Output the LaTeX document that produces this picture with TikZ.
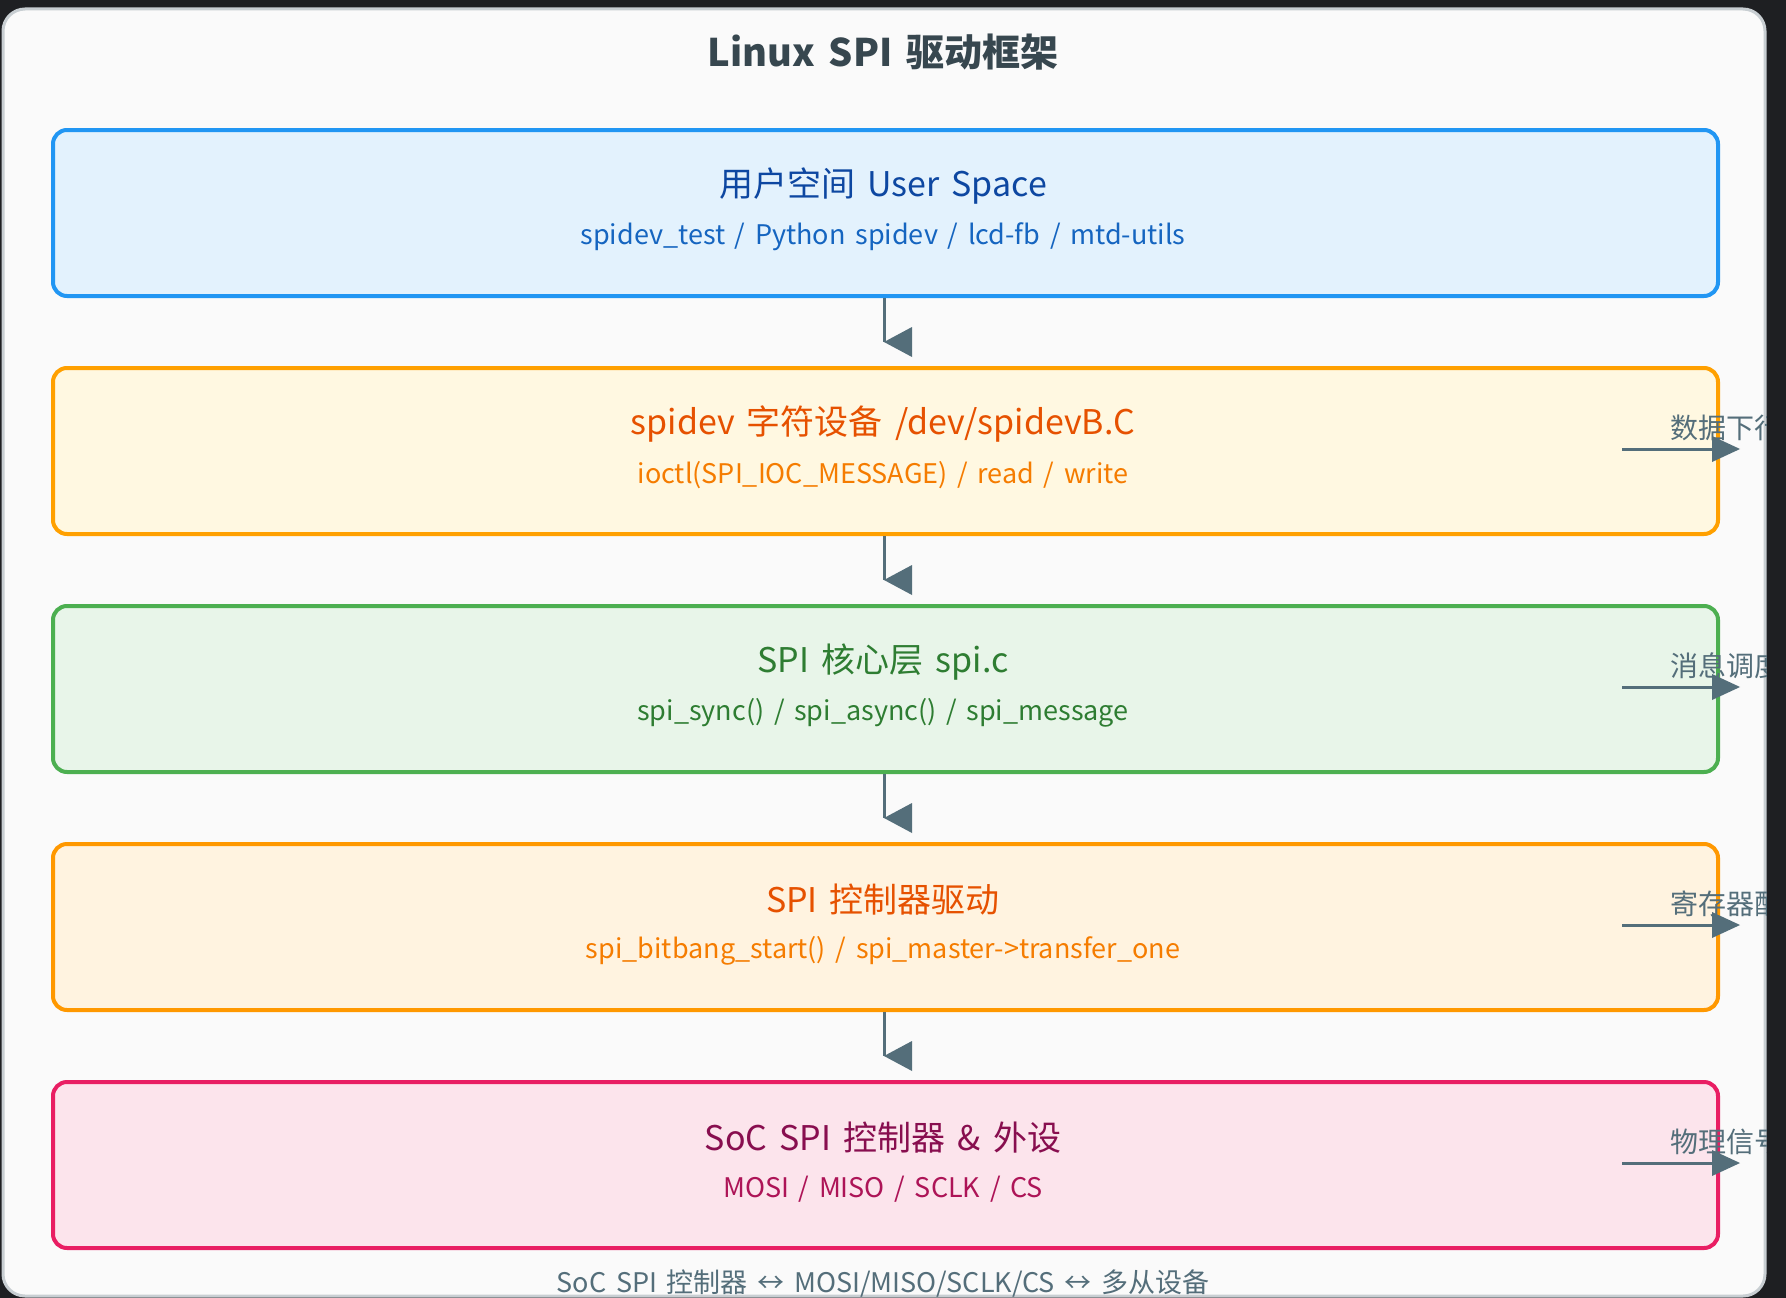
\documentclass[tikz,border=0pt]{standalone}
\usepackage{fontspec}
\setmainfont[WordSpace=1.6]{Noto Sans CJK SC}
\begin{document}
\begin{tikzpicture}[x=1pt,y=-1pt,
 box/.style={rounded corners=14pt,line width=4pt,minimum width=1665pt,minimum height=166pt,anchor=north west},
 ttl/.style={font=\fontsize{34}{40}\selectfont},
 sub/.style={font=\fontsize{27}{32}\selectfont},
 side/.style={font=\fontsize{28}{32}\selectfont,text=arr},
 con/.style={line width=3pt,draw=arr}]
\definecolor{arr}{HTML}{546E7A}
\definecolor{bg}{HTML}{1E1F22}
\useasboundingbox (0,0) rectangle (1786,1298);
\fill[bg] (0,0) rectangle (1786,1298);
\filldraw[fill={rgb,255:red,250;green,250;blue,250},draw={rgb,255:red,200;green,206;blue,210},line width=3pt,rounded corners=22pt] (3,9) rectangle (1765,1296);
\node[font=\fontsize{38}{44}\selectfont\bfseries,text={rgb,255:red,55;green,71;blue,79}] (title) at (883,52) {Linux SPI 驱动框架};
\foreach \n/\y/\f/\d/\tc/\sc/\t/\s in {
 a/128/E3F2FD/2196F3/0D47A1/1565C0/{用户空间 User Space}/{spidev\_test / Python spidev / lcd-fb / mtd-utils},
 b/366/FFF8E1/FFA000/E65100/F57C00/{spidev 字符设备 /dev/spidevB.C}/{ioctl(SPI\_IOC\_MESSAGE) / read / write},
 c/604/E8F5E9/4CAF50/2E7D32/2E7D32/{SPI 核心层 spi.c}/{spi\_sync() / spi\_async() / spi\_message},
 d/842/FFF3E0/FF9800/E65100/F57C00/{SPI 控制器驱动}/{spi\_bitbang\_start() / spi\_master->transfer\_one},
 e/1080/FCE4EC/E91E63/880E4F/AD1457/{SoC SPI 控制器 \& 外设}/{MOSI / MISO / SCLK / CS}}{
  \definecolor{f}{HTML}{\f}\definecolor{d}{HTML}{\d}\definecolor{tc}{HTML}{\tc}\definecolor{sc}{HTML}{\sc}
  \node[box,fill=f,draw=d] (\n) at (51,\y) {};
  \node[ttl,text=tc] (\n t) at (883,\y+58) {\t};
  \node[sub,text=sc] (\n s) at (883,\y+109) {\s};
 }
\foreach \n/\y/\lab in {b/366/数据下行,c/604/消息调度,d/842/寄存器配,e/1080/物理信号}{
  \coordinate (\n r0) at (1622,\y+83);
  \node[side,anchor=south west,inner sep=0pt] (\n l) at (1670,\y+75) {\lab};
  \fill[arr] (1712,\y+70) -- (1740,\y+83) -- (1712,\y+96) -- cycle;
  \draw[con] (\n r0) -- (1715,\y+83);
}
\foreach \u in {a,b,c,d}{
  \draw[con] (884,0 |- \u.south) -- ++(0,44) coordinate (\u tip);
  \fill[arr] (\u tip) -- ++(28,-15) -- ++(0,30) -- cycle;
}
\begin{scope}
\clip (0,0) rectangle (1786,1296);
\node[font=\fontsize{27}{32}\selectfont,text=arr] (foot) at (883,1284) {SoC SPI 控制器 ↔ MOSI/MISO/SCLK/CS ↔ 多从设备};
\end{scope}
\fill[bg] (1767,0) rectangle (1786,1298);
\end{tikzpicture}
\end{document}
